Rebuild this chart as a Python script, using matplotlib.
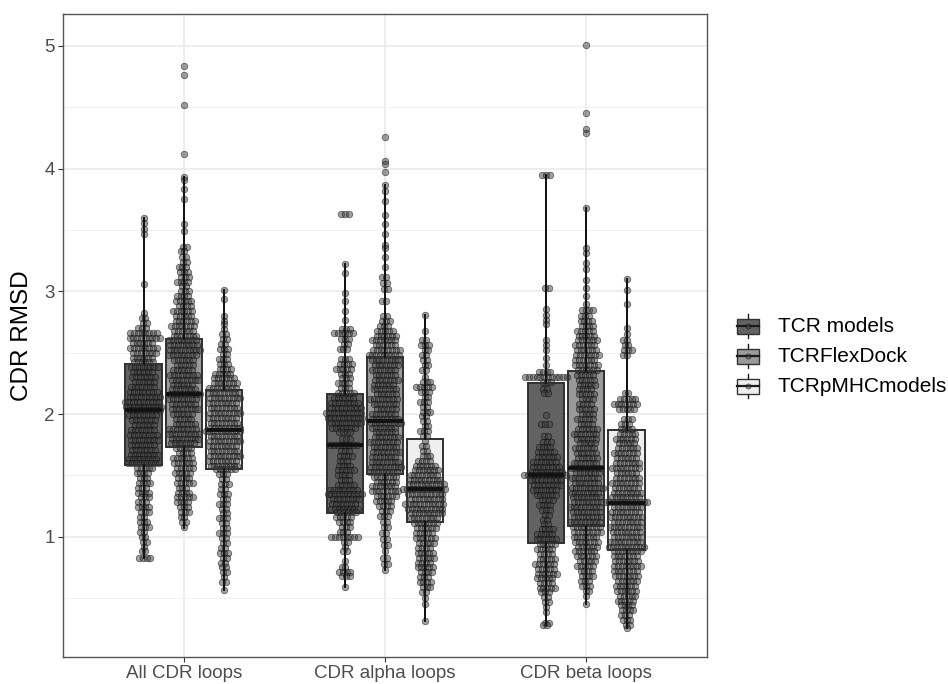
import numpy as np
import matplotlib
matplotlib.use("Agg")
import matplotlib.pyplot as plt
from matplotlib.patches import Rectangle
from matplotlib.lines import Line2D

plt.rcParams['font.family'] = ['Liberation Sans', 'DejaVu Sans']

categories = ["All CDR loops", "CDR alpha loops", "CDR beta loops"]
series = ["TCR models", "TCRFlexDock", "TCRpMHCmodels"]
fills = ["#626262", "#9a9a9a", "#efefef"]
yticks = [1, 2, 3, 4, 5]
ylabel = "CDR RMSD"

# box statistics (per series, per category)
q1_vals = {"TCR models": [1.585, 1.195, 0.945],
           "TCRFlexDock": [1.735, 1.510, 1.090],
           "TCRpMHCmodels": [1.555, 1.120, 0.888]}
med_vals = {"TCR models": [2.03, 1.75, 1.50],
            "TCRFlexDock": [2.165, 1.94, 1.56],
            "TCRpMHCmodels": [1.87, 1.39, 1.275]}
q3_vals = {"TCR models": [2.405, 2.165, 2.256],
           "TCRFlexDock": [2.614, 2.464, 2.35],
           "TCRpMHCmodels": [2.197, 1.80, 1.873]}
wlo_vals = {"TCR models": [0.83, 0.59, 0.28],
            "TCRFlexDock": [1.07, 0.73, 0.45],
            "TCRpMHCmodels": [0.57, 0.31, 0.26]}
whi_vals = {"TCR models": [3.60, 3.22, 3.95],
            "TCRFlexDock": [3.93, 3.87, 3.68],
            "TCRpMHCmodels": [3.01, 2.81, 3.10]}

# individual points as (value, number of points at that value)
tcr_all = [(3.60,1),(3.56,1),(3.51,1),(3.47,1),(3.06,1),(2.82,1),(2.78,2),(2.74,2),(2.70,3),
           (2.66,8),(2.62,9),(2.58,6),(2.54,8),(2.50,7),(2.46,6),(2.42,6),(2.38,8),(2.34,6),
           (2.30,7),(2.26,6),(2.22,7),(2.18,8),(2.14,9),(2.10,10),(2.06,10),(2.03,9),(1.99,8),
           (1.95,7),(1.91,6),(1.87,7),(1.83,8),(1.79,8),(1.75,7),(1.71,7),(1.67,8),(1.63,8),
           (1.60,9),(1.56,5),(1.52,4),(1.48,3),(1.44,4),(1.40,3),(1.36,4),(1.32,3),(1.28,3),
           (1.24,4),(1.20,3),(1.16,2),(1.12,3),(1.08,3),(1.04,2),(1.00,2),(0.96,2),(0.92,1),
           (0.88,2),(0.83,4)]
flex_all = [(4.84,1),(4.76,1),(4.52,1),(4.12,1),(3.93,1),(3.91,1),(3.83,1),(3.75,1),(3.55,1),
            (3.49,1),(3.36,2),(3.33,2),(3.28,2),(3.24,2),(3.20,3),(3.16,3),(3.12,3),(3.08,4),
            (3.04,2),(3.00,3),(2.96,4),(2.92,5),(2.88,4),(2.84,6),(2.80,5),(2.76,6),(2.72,7),
            (2.68,6),(2.64,7),(2.60,8),(2.56,8),(2.52,9),(2.48,8),(2.44,6),(2.40,5),(2.36,6),
            (2.32,8),(2.28,8),(2.24,6),(2.20,7),(2.16,9),(2.12,8),(2.08,7),(2.04,8),(2.00,6),
            (1.96,5),(1.92,6),(1.88,8),(1.84,9),(1.80,8),(1.76,7),(1.72,5),(1.68,4),(1.64,6),
            (1.60,6),(1.56,5),(1.52,5),(1.48,4),(1.44,5),(1.40,3),(1.36,4),(1.32,5),(1.28,4),
            (1.24,3),(1.20,3),(1.16,2),(1.12,2),(1.08,1)]
pmhc_all = [(3.01,1),(2.94,1),(2.80,1),(2.76,1),(2.73,1),(2.69,1),(2.65,2),(2.61,2),(2.57,2),
            (2.53,3),(2.49,2),(2.45,3),(2.41,3),(2.37,4),(2.33,5),(2.29,6),(2.25,7),(2.21,8),
            (2.17,9),(2.13,9),(2.09,8),(2.05,8),(2.01,9),(1.97,8),(1.93,8),(1.89,9),(1.86,10),
            (1.82,8),(1.78,9),(1.74,8),(1.70,8),(1.66,9),(1.62,8),(1.58,8),(1.55,6),(1.51,3),
            (1.47,2),(1.43,3),(1.39,2),(1.35,3),(1.31,2),(1.27,3),(1.23,2),(1.19,2),(1.15,3),
            (1.11,2),(1.07,2),(1.03,3),(0.99,2),(0.95,2),(0.91,2),(0.87,3),(0.83,2),(0.79,2),
            (0.75,2),(0.71,2),(0.67,1),(0.63,2),(0.57,1)]
tcr_alpha = [(3.63,3),(3.22,1),(3.15,1),(2.99,1),(2.92,1),(2.84,1),(2.77,1),(2.69,3),(2.66,6),
             (2.61,3),(2.57,2),(2.53,3),(2.45,3),(2.41,4),(2.37,5),(2.33,3),(2.29,3),(2.25,4),
             (2.21,3),(2.17,5),(2.13,6),(2.09,8),(2.05,9),(2.01,10),(1.97,10),(1.93,9),(1.89,7),
             (1.85,4),(1.80,3),(1.75,8),(1.70,3),(1.66,4),(1.62,3),(1.58,4),(1.54,5),(1.50,4),
             (1.46,3),(1.42,5),(1.38,8),(1.35,10),(1.31,8),(1.27,7),(1.23,8),(1.20,6),(1.16,5),
             (1.12,4),(1.08,3),(1.04,3),(1.00,8),(0.96,2),(0.92,1),(0.88,2),(0.80,1),(0.75,2),
             (0.71,4),(0.68,3),(0.59,1)]
flex_alpha = [(4.26,1),(4.06,1),(4.04,1),(3.97,1),(3.87,1),(3.82,1),(3.74,1),(3.62,1),(3.55,1),
              (3.47,1),(3.38,1),(3.35,1),(3.28,1),(3.20,1),(3.12,2),(3.07,2),(3.02,2),(2.92,2),
              (2.80,2),(2.76,3),(2.72,3),(2.68,5),(2.64,6),(2.60,7),(2.56,6),(2.52,8),(2.48,9),
              (2.44,8),(2.40,7),(2.36,7),(2.32,6),(2.28,7),(2.24,6),(2.20,7),(2.16,6),(2.12,8),
              (2.08,7),(2.04,6),(2.00,7),(1.96,8),(1.93,9),(1.89,7),(1.85,6),(1.81,7),(1.77,8),
              (1.73,7),(1.69,8),(1.65,7),(1.61,8),(1.57,9),(1.53,8),(1.49,7),(1.45,6),(1.41,7),
              (1.37,8),(1.33,6),(1.29,5),(1.25,4),(1.21,3),(1.17,3),(1.12,2),(1.08,2),(1.03,2),
              (0.98,2),(0.93,2),(0.88,1),(0.83,2),(0.78,2),(0.73,1)]
pmhc_alpha = [(2.81,1),(2.68,1),(2.60,2),(2.56,3),(2.52,2),(2.48,2),(2.44,2),(2.40,2),(2.36,2),
              (2.30,1),(2.26,3),(2.22,5),(2.18,3),(2.14,2),(2.10,3),(2.06,2),(2.02,3),(1.98,2),
              (1.94,2),(1.90,2),(1.86,3),(1.82,2),(1.78,1),(1.74,2),(1.70,2),(1.66,3),(1.62,4),
              (1.58,6),(1.54,7),(1.50,8),(1.46,9),(1.43,10),(1.39,12),(1.35,10),(1.31,9),
              (1.27,11),(1.23,10),(1.19,9),(1.15,8),(1.11,7),(1.07,6),(1.03,5),(0.99,6),(0.95,5),
              (0.91,4),(0.87,5),(0.83,5),(0.79,4),(0.75,5),(0.71,4),(0.67,3),(0.63,4),(0.59,3),
              (0.55,2),(0.50,1),(0.45,1),(0.31,1)]
tcr_beta = [(3.95,3),(3.03,2),(2.86,1),(2.81,1),(2.77,1),(2.73,1),(2.60,1),(2.56,1),
            (2.52,1),(2.46,1),(2.40,1),(2.34,4),(2.30,12),(2.26,3),(2.20,2),(2.17,2),(1.99,1),
            (1.92,3),(1.82,2),(1.77,3),(1.73,4),(1.69,5),(1.65,6),(1.61,7),(1.57,8),(1.53,9),
            (1.50,12),(1.46,9),(1.42,8),(1.38,7),(1.34,6),(1.30,4),(1.26,4),(1.22,3),(1.18,2),
            (1.14,2),(1.10,2),(1.06,4),(1.02,5),(0.98,6),(0.94,5),(0.90,5),(0.86,4),(0.82,5),
            (0.78,6),(0.74,5),(0.70,6),(0.66,5),(0.62,4),(0.58,5),(0.55,3),(0.51,2),(0.47,2),
            (0.43,1),(0.39,1),(0.30,2),(0.28,2)]
flex_beta = [(5.01,1),(4.45,1),(4.32,1),(4.29,1),(3.68,1),(3.35,1),(3.31,1),(3.23,1),(3.18,1),
             (3.09,1),(3.03,1),(2.96,1),(2.90,1),(2.85,4),(2.80,3),(2.76,4),(2.72,4),(2.68,5),
             (2.64,5),(2.60,6),(2.56,6),(2.52,6),(2.48,7),(2.44,6),(2.40,7),(2.36,6),(2.32,5),
             (2.28,5),(2.24,5),(2.20,4),(2.16,5),(2.12,4),(2.08,4),(2.04,5),(2.00,4),(1.96,5),
             (1.92,4),(1.88,6),(1.84,7),(1.80,6),(1.76,5),(1.72,6),(1.68,6),(1.64,6),(1.60,7),
             (1.56,9),(1.52,7),(1.48,8),(1.44,7),(1.40,9),(1.36,8),(1.32,8),(1.28,8),(1.24,9),
             (1.20,8),(1.16,8),(1.12,9),(1.08,8),(1.04,8),(1.00,7),(0.96,7),(0.92,6),(0.88,6),
             (0.84,6),(0.80,5),(0.76,5),(0.72,4),(0.68,4),(0.64,3),(0.60,3),(0.56,2),(0.52,1),
             (0.45,1)]
pmhc_beta = [(3.10,1),(3.01,1),(2.90,1),(2.70,1),(2.65,1),(2.60,2),(2.56,2),(2.52,3),(2.48,2),
             (2.17,2),(2.12,5),(2.08,7),(2.04,5),(1.96,3),(1.92,3),(1.88,4),(1.84,5),(1.80,6),
             (1.76,5),(1.72,6),(1.68,7),(1.64,6),(1.60,7),(1.56,8),(1.52,6),(1.48,7),(1.44,8),
             (1.40,7),(1.36,8),(1.32,8),(1.28,12),(1.24,8),(1.20,8),(1.16,9),(1.12,8),(1.08,9),
             (1.04,8),(1.00,8),(0.96,9),(0.92,10),(0.88,8),(0.84,7),(0.80,7),(0.76,8),(0.72,7),
             (0.68,7),(0.64,6),(0.60,6),(0.56,6),(0.52,5),(0.48,5),(0.44,4),(0.40,4),(0.36,3),
             (0.32,3),(0.28,2),(0.26,1)]

points = {"TCR models": [tcr_all, tcr_alpha, tcr_beta],
          "TCRFlexDock": [flex_all, flex_alpha, flex_beta],
          "TCRpMHCmodels": [pmhc_all, pmhc_alpha, pmhc_beta]}

W, H = 948, 684
fig = plt.figure(figsize=(W / 100, H / 100), dpi=100)
L, R, T, B = 63, 707, 14, 657
ax = fig.add_axes([L / W, (H - B) / H, (R - L) / W, (B - T) / H])

ax.set_xlim(0.4, 3.6)
ax.set_ylim(0.02, 5.26)
px_per_x = (R - L) / 3.2

ax.set_yticks(yticks)
ax.set_yticks([0.5, 1.5, 2.5, 3.5, 4.5], minor=True)
ax.set_xticks([1, 2, 3])
ax.set_xticklabels(categories, fontsize=13.5, color="#4d4d4d")
ax.set_yticklabels([str(t) for t in yticks], fontsize=13.5, color="#4d4d4d")
ax.grid(True, which="major", color="#e8e8e8", linewidth=1.1)
ax.grid(True, which="minor", axis="y", color="#f2f2f2", linewidth=0.7)
ax.set_axisbelow(True)
ax.tick_params(axis="both", which="major", length=3.5, width=0.8, color="#333333", pad=2.5)
ax.tick_params(axis="both", which="minor", length=0)
for sp in ax.spines.values():
    sp.set_color("#555555")
    sp.set_linewidth(1.0)
ax.set_ylabel(ylabel, fontsize=17.5, labelpad=8)

dodge = [-0.2, 0.0, 0.2]
box_w = 0.18
spacing = 3.8 / px_per_x
stagger = [0.0, 1.0 / 3.0, -1.0 / 3.0]

for si, s in enumerate(series):
    for ci in range(3):
        xc = ci + 1 + dodge[si]
        vals = points[s][ci]
        lo, hi = wlo_vals[s][ci], whi_vals[s][ci]
        stats = [dict(med=med_vals[s][ci], q1=q1_vals[s][ci], q3=q3_vals[s][ci],
                      whislo=lo, whishi=hi, fliers=[])]
        ax.bxp(stats, positions=[xc], widths=box_w, patch_artist=True, showcaps=False,
               showfliers=False,
               boxprops=dict(facecolor=fills[si], edgecolor="#333333", linewidth=1.3),
               medianprops=dict(color="#1a1a1a", linewidth=2.6, solid_capstyle="butt"),
               whiskerprops=dict(color="#1a1a1a", linewidth=1.3),
               manage_ticks=False, zorder=2)
        xs, ys = [], []
        for ri, (v, c) in enumerate(vals):
            shift = stagger[ri % 3] * spacing if c > 1 else 0.0
            offs = (np.arange(c) - (c - 1) / 2.0) * spacing + shift
            xs.extend(xc + offs)
            ys.extend([v] * c)
        ax.scatter(xs, ys, s=22, facecolor=(0.25, 0.25, 0.25, 0.5),
                   edgecolor=(0, 0, 0, 0.55), linewidth=0.55, zorder=3)
        ax.bxp(stats, positions=[xc], widths=box_w, patch_artist=True, showcaps=False,
               showfliers=False,
               boxprops=dict(facecolor="none", edgecolor="#333333", linewidth=1.3),
               medianprops=dict(color="#111111", linewidth=2.6, solid_capstyle="butt"),
               whiskerprops=dict(color="#111111", linewidth=1.3),
               manage_ticks=False, zorder=4)

# legend drawn in figure pixel coordinates
lax = fig.add_axes([0, 0, 1, 1])
lax.set_xlim(0, W)
lax.set_ylim(H, 0)
lax.axis("off")
rows = [326, 356, 386]
for si, s in enumerate(series):
    yc = rows[si]
    lax.add_line(Line2D([748, 748], [yc - 12, yc + 12], color="#1a1a1a", linewidth=1.0))
    lax.add_patch(Rectangle((737, yc - 7.5), 22, 15, facecolor=fills[si],
                            edgecolor="#333333", linewidth=1.0, zorder=3))
    lax.add_line(Line2D([737, 759], [yc, yc], color="#1a1a1a", linewidth=1.6, zorder=4))
    lax.scatter([748], [yc], s=14, facecolor=(0.25, 0.25, 0.25, 0.5),
                edgecolor=(0, 0, 0, 0.55), linewidth=0.5, zorder=5)
    lax.text(778, yc, s, fontsize=15, va="center", ha="left", color="#000000")

fig.savefig("out.png", dpi=100)
